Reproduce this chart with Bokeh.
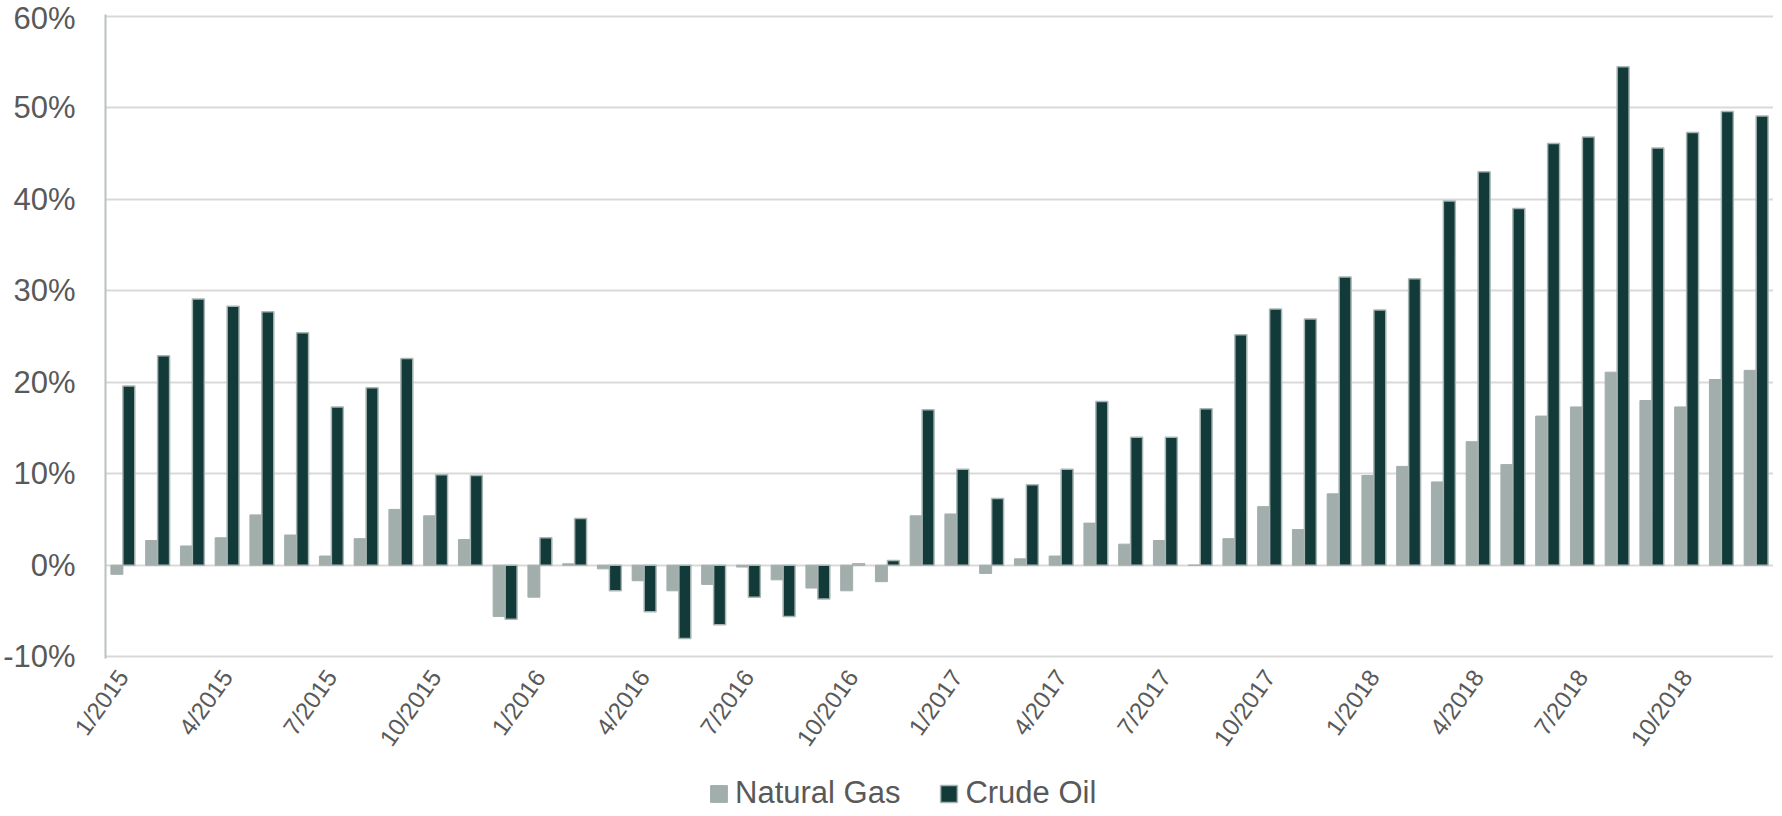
from bokeh.plotting import figure
from bokeh.layouts import column
from bokeh.models import (ColumnDataSource, FixedTicker, PrintfTickFormatter,
                          Legend, LegendItem, Range1d)
from bokeh.transform import dodge
from bokeh.embed import file_html
from bokeh.resources import INLINE

# ---- data ----
months = [f"{m}/{y}" for y in (2015, 2016, 2017, 2018) for m in range(1, 13)]
natural_gas = [-1.0, 2.7, 2.1, 3.0, 5.5, 3.3, 1.0, 2.9, 6.1, 5.4, 2.8, -5.6,
               -3.5, 0.15, -0.4, -1.7, -2.8, -2.1, -0.2, -1.6, -2.5, -2.8, -1.8, 5.4,
               5.6, -0.9, 0.7, 1.0, 4.6, 2.3, 2.7, 0.0, 2.9, 6.4, 3.9, 7.8,
               9.8, 10.8, 9.1, 13.5, 11.0, 16.3, 17.3, 21.1, 18.0, 17.3, 20.3, 21.3]
crude_oil = [19.6, 22.9, 29.1, 28.3, 27.7, 25.4, 17.3, 19.4, 22.6, 9.9, 9.8, -5.9,
             3.0, 5.1, -2.8, -5.1, -8.0, -6.5, -3.5, -5.6, -3.7, 0.15, 0.5, 17.0,
             10.5, 7.3, 8.8, 10.5, 17.9, 14.0, 14.0, 17.1, 25.2, 28.0, 26.9, 31.5,
             27.9, 31.3, 39.8, 43.0, 39.0, 46.1, 46.8, 54.5, 45.6, 47.3, 49.6, 49.1]
y_ticks = [-10, 0, 10, 20, 30, 40, 50, 60]
label_every = 3
series_names = ["Natural Gas", "Crude Oil"]

GAS = "#A2AEAC"
OIL = "#113A39"
EDGE = "#A9B5B3"
TXT = "#595959"
FONT = "Liberation Sans"

idx = list(range(len(months)))
src = ColumnDataSource(dict(x=idx, gas=natural_gas, oil=crude_oil))

p = figure(frame_width=1668, frame_height=644, output_backend="svg", toolbar_location=None,
           x_range=Range1d(-0.5, len(months) - 0.5),
           y_range=Range1d(y_ticks[0] - 0.2, y_ticks[-1] + 0.2))
p.min_border_left = 98
p.min_border_right = 0
p.min_border_top = 14
p.min_border_bottom = 96
p.outline_line_color = None
p.background_fill_color = "white"
p.border_fill_color = "white"

bw = 0.344
p.vbar(x=dodge("x", -bw / 2, range=p.x_range), top="gas", bottom=0, width=bw,
       source=src, fill_color=GAS, line_color=GAS, line_width=1)
p.vbar(x=dodge("x", bw / 2, range=p.x_range), top="oil", bottom=0, width=bw,
       source=src, fill_color=OIL, line_color=EDGE, line_width=1.5)

# y axis
p.yaxis.ticker = FixedTicker(ticks=y_ticks)
p.yaxis.formatter = PrintfTickFormatter(format="%d%%")
p.yaxis.major_label_text_font = FONT
p.yaxis.major_label_text_font_size = "31px"
p.yaxis.major_label_text_color = TXT
p.yaxis.major_tick_line_color = None
p.yaxis.minor_tick_line_color = None
p.yaxis.major_label_standoff = 24
p.yaxis.axis_line_color = "#B8C2C0"
p.yaxis.axis_line_width = 2

# x axis
xt = idx[::label_every]
p.xaxis.ticker = FixedTicker(ticks=xt)
p.xaxis.major_label_overrides = {i: months[i] for i in xt}
p.xaxis.major_label_orientation = 0.95
p.xaxis.major_label_text_font = FONT
p.xaxis.major_label_text_font_size = "24px"
p.xaxis.major_label_text_color = TXT
p.xaxis.major_tick_line_color = None
p.xaxis.minor_tick_line_color = None
p.xaxis.axis_line_color = None
p.xaxis.major_label_standoff = 8

p.xgrid.grid_line_color = None
p.ygrid.grid_line_color = "#D9D9D9"
p.ygrid.grid_line_width = 2

# legend strip below the chart
lf = figure(width=1766, height=50, output_backend="svg", toolbar_location=None,
            x_axis_type=None, y_axis_type=None,
            x_range=Range1d(0, 1), y_range=Range1d(0, 1))
lf.min_border_left = 98
lf.min_border_right = 0
lf.min_border_top = 0
lf.min_border_bottom = 0
lf.outline_line_color = None
lf.grid.grid_line_color = None
offscreen = ColumnDataSource(dict(x=[-10], top=[-10]))
lg = lf.vbar(x="x", top="top", width=0.1, source=offscreen, fill_color=GAS, line_color=GAS)
lo = lf.vbar(x="x", top="top", width=0.1, source=offscreen, fill_color=OIL, line_color=EDGE,
             line_width=1.5)
legend = Legend(items=[LegendItem(label=series_names[0], renderers=[lg]),
                       LegendItem(label=series_names[1], renderers=[lo])],
                orientation="horizontal", location=(603, 0))
legend.label_text_font = FONT
legend.label_text_font_size = "31px"
legend.label_text_color = TXT
legend.glyph_width = 21
legend.glyph_height = 21
legend.label_standoff = 6
legend.spacing = 38
legend.padding = 0
legend.margin = 0
legend.border_line_color = None
legend.background_fill_alpha = 0
lf.add_layout(legend, "center")

layout = column(p, lf, spacing=0)
open("out.html", "w").write(file_html(layout, INLINE))
